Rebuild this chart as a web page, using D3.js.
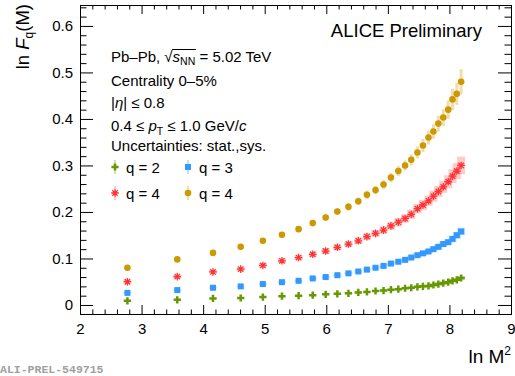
<!DOCTYPE html>
<html><head><meta charset="utf-8">
<script src="https://cdn.jsdelivr.net/npm/d3@7"></script>
<style>body{margin:0;background:#fff} svg{display:block;font-family:"Liberation Sans",Arial,sans-serif}</style>
</head><body>
<svg id="c" width="515" height="376"></svg>
<script>
// ln M^2 for M = 4, 6, ..., 60
const lnM2 = [2.77,3.58,4.16,4.61,4.97,5.28,5.55,5.78,5.99,6.18,6.36,6.52,6.66,6.80,6.93,7.05,7.17,7.28,7.38,7.48,7.57,7.66,7.74,7.82,7.90,7.98,8.05,8.12,8.19];
const q2  = [0.009,0.011,0.014,0.015,0.017,0.019,0.020,0.021,0.023,0.024,0.025,0.027,0.028,0.030,0.031,0.033,0.034,0.036,0.037,0.039,0.040,0.041,0.043,0.045,0.047,0.049,0.052,0.054,0.058];
const q3  = [0.026,0.032,0.037,0.040,0.045,0.049,0.052,0.057,0.060,0.064,0.068,0.072,0.076,0.080,0.084,0.089,0.093,0.097,0.102,0.107,0.111,0.115,0.120,0.125,0.131,0.135,0.142,0.150,0.158];
const q4a = [0.050,0.061,0.071,0.077,0.085,0.095,0.102,0.109,0.116,0.124,0.131,0.138,0.147,0.154,0.161,0.170,0.178,0.186,0.195,0.207,0.215,0.224,0.234,0.244,0.254,0.265,0.277,0.288,0.300];
const q4b = [0.080,0.098,0.112,0.125,0.138,0.151,0.163,0.176,0.188,0.201,0.211,0.223,0.237,0.247,0.259,0.274,0.288,0.300,0.312,0.328,0.343,0.360,0.373,0.390,0.403,0.420,0.442,0.454,0.480];
// systematic uncertainties (half heights)
const sys2  = [0.001,0.001,0.001,0.001,0.001,0.001,0.001,0.001,0.002,0.002,0.002,0.002,0.002,0.002,0.002,0.002,0.002,0.002,0.002,0.002,0.002,0.003,0.003,0.003,0.003,0.003,0.003,0.003,0.004];
const sys3  = [0.002,0.002,0.002,0.002,0.002,0.002,0.002,0.003,0.003,0.003,0.003,0.003,0.003,0.003,0.004,0.004,0.004,0.004,0.004,0.005,0.005,0.005,0.005,0.006,0.006,0.006,0.007,0.007,0.008];
const sys4a = [0.004,0.004,0.004,0.004,0.005,0.005,0.005,0.005,0.006,0.006,0.006,0.007,0.007,0.007,0.008,0.008,0.009,0.009,0.010,0.010,0.011,0.011,0.012,0.012,0.013,0.014,0.015,0.017,0.019];
const sys4b = [0.004,0.004,0.005,0.005,0.005,0.006,0.006,0.006,0.007,0.007,0.008,0.008,0.009,0.009,0.010,0.010,0.011,0.011,0.012,0.013,0.014,0.015,0.016,0.017,0.018,0.020,0.023,0.024,0.027];
const xTicks = [2,3,4,5,6,7,8,9];
const yTicks = [0,0.1,0.2,0.3,0.4,0.5,0.6];
const legendLabels = ["q = 2","q = 3","q = 4","q = 4"];

const svg = d3.select("#c");
const L=80, R=511, T=5, B=314;
const x = d3.scaleLinear([2,9],[L,R]);
const y = d3.scaleLinear([-0.0194,0.645],[B,T]);

const series = [
  {v:q2, e:sys2, col:"#669900", box:"rgba(102,153,0,0.30)", bw:8, shape:"cross"},
  {v:q3, e:sys3, col:"#3399ff", box:"rgba(51,153,255,0.30)", bw:8, shape:"square"},
  {v:q4a, e:sys4a, col:"#ff3333", box:"rgba(255,51,51,0.26)", bw:8, shape:"star"},
  {v:q4b, e:sys4b, col:"#cc9900", box:"rgba(204,153,0,0.32)", bw:3, shape:"circle"}
];

function marker(g, shape, col) {
  if (shape==="cross") {
    const a=3.6, w=1.25;
    g.append("path").attr("d",`M${-w},${-a}H${w}V${-w}H${a}V${w}H${w}V${a}H${-w}V${w}H${-a}V${-w}H${-w}Z`).attr("fill",col);
  } else if (shape==="square") {
    g.append("rect").attr("x",-3).attr("y",-3).attr("width",6).attr("height",6).attr("fill",col);
  } else if (shape==="circle") {
    g.append("circle").attr("r",3.3).attr("fill",col);
  } else {
    const a=3.8, d=2.7;
    g.append("path").attr("d",`M${-a},0H${a}M0,${-a}V${a}M${-d},${-d}L${d},${d}M${-d},${d}L${d},${-d}`)
      .attr("stroke",col).attr("stroke-width",1.3).attr("fill","none");
  }
}

// axes
const fmtY = d => d===0 ? "0" : d3.format(".1f")(d);
const xMinor = x.ticks(35).filter(d=>!xTicks.includes(d));
const yMinor = d3.range(0,0.645,0.02).filter(d=>!yTicks.some(t=>Math.abs(t-d)<1e-6));

function styleAxis(g){ g.select(".domain").remove(); g.selectAll("line").attr("stroke","#000"); g.selectAll("text").attr("font-family","Liberation Sans, Arial, sans-serif").attr("font-size",15).attr("fill","#000"); }

svg.append("g").attr("transform",`translate(0,${B})`).call(d3.axisBottom(x).tickValues(xTicks).tickSize(-9).tickPadding(9).tickFormat(d3.format("d"))).call(styleAxis);
svg.append("g").attr("transform",`translate(0,${B})`).call(d3.axisBottom(x).tickValues(xMinor).tickSize(-4.5).tickFormat("")).call(styleAxis);
svg.append("g").attr("transform",`translate(0,${T})`).call(d3.axisTop(x).tickValues(xTicks).tickSize(-9).tickFormat("")).call(styleAxis);
svg.append("g").attr("transform",`translate(0,${T})`).call(d3.axisTop(x).tickValues(xMinor).tickSize(-4.5).tickFormat("")).call(styleAxis);
svg.append("g").attr("transform",`translate(${L},0)`).call(d3.axisLeft(y).tickValues(yTicks).tickSize(-13).tickPadding(7).tickFormat(fmtY)).call(styleAxis);
svg.append("g").attr("transform",`translate(${L},0)`).call(d3.axisLeft(y).tickValues(yMinor).tickSize(-6.5).tickFormat("")).call(styleAxis);
svg.append("g").attr("transform",`translate(${R},0)`).call(d3.axisRight(y).tickValues(yTicks).tickSize(-13).tickFormat("")).call(styleAxis);
svg.append("g").attr("transform",`translate(${R},0)`).call(d3.axisRight(y).tickValues(yMinor).tickSize(-6.5).tickFormat("")).call(styleAxis);
svg.append("rect").attr("x",L+0.5).attr("y",T+0.5).attr("width",R-L).attr("height",B-T).attr("fill","none").attr("stroke","#000");

// data
series.forEach(s=>{
  const g = svg.append("g");
  g.selectAll("rect").data(s.v).join("rect")
    .attr("x",(d,i)=>x(lnM2[i])-s.bw/2).attr("width",s.bw)
    .attr("y",(d,i)=>y(d+s.e[i])).attr("height",(d,i)=>y(d-s.e[i])-y(d+s.e[i]))
    .attr("fill",s.box);
});
series.forEach(s=>{
  s.v.forEach((d,i)=>{
    const g = svg.append("g").attr("transform",`translate(${x(lnM2[i])},${y(d)})`);
    marker(g,s.shape,s.col);
  });
});

// texts
svg.append("text").attr("x",482).attr("y",36.5).attr("text-anchor","end").attr("font-size",18.5).text("ALICE Preliminary");

const tx = 111, fs = 15;
const t1 = svg.append("text").attr("x",tx).attr("y",62).attr("font-size",fs);
t1.append("tspan").text("Pb–Pb, √");
t1.append("tspan").attr("font-style","italic").text("s");
t1.append("tspan").attr("font-size",10.5).attr("dy",3).text("NN");
t1.append("tspan").attr("dy",-3).text(" = 5.02 TeV");
{
  const n = t1.node();
  const e7 = n.getExtentOfChar(7), e10 = n.getExtentOfChar(10);
  svg.append("line").attr("x1",e7.x+e7.width-0.5).attr("x2",e10.x+e10.width+0.5)
    .attr("y1",e7.y+1.5).attr("y2",e7.y+1.5).attr("stroke","#000").attr("stroke-width",1);
}
svg.append("text").attr("x",tx).attr("y",86).attr("font-size",fs).text("Centrality 0–5%");
const t3 = svg.append("text").attr("x",tx).attr("y",108).attr("font-size",fs);
t3.append("tspan").text("|");
t3.append("tspan").attr("font-style","italic").text("η");
t3.append("tspan").text("| ≤ 0.8");
const t4 = svg.append("text").attr("x",tx).attr("y",131).attr("font-size",fs);
t4.append("tspan").text("0.4 ≤ ");
t4.append("tspan").attr("font-style","italic").text("p");
t4.append("tspan").attr("font-size",10.5).attr("dy",4).text("T");
t4.append("tspan").attr("dy",-4).text(" ≤ 1.0 GeV/");
t4.append("tspan").attr("font-style","italic").text("c");
svg.append("text").attr("x",tx).attr("y",151).attr("font-size",fs).text("Uncertainties: stat.,sys.");

// legend
const legPos = [[115,167],[188,167],[115,193],[188,193]];
series.forEach((s,i)=>{
  const [lx,ly] = legPos[i];
  svg.append("rect").attr("x",lx-1).attr("y",ly-7).attr("width",2).attr("height",14).attr("fill",s.box);
  const g = svg.append("g").attr("transform",`translate(${lx},${ly})`);
  marker(g,s.shape,s.col);
  svg.append("text").attr("x",lx+11).attr("y",ly+5.5).attr("font-size",fs).text(legendLabels[i]);
});

// axis titles
const yl = svg.append("text").attr("transform","translate(29,4) rotate(-90)").attr("text-anchor","end").attr("font-size",18.5);
yl.append("tspan").text("ln ");
yl.append("tspan").attr("font-style","italic").text("F");
yl.append("tspan").attr("font-size",12).attr("dy",4).text("q");
yl.append("tspan").attr("dy",-4).text("(M)");

const xl = svg.append("text").attr("x",511).attr("y",363).attr("text-anchor","end").attr("font-size",19);
xl.append("tspan").text("ln M");
xl.append("tspan").attr("font-size",12).attr("dy",-8).text("2");

svg.append("text").attr("x",0).attr("y",373).attr("font-family","Liberation Mono, Courier New, monospace").attr("font-weight","bold").attr("font-size",11.5).attr("fill","#a0a0a0").text("ALI-PREL-549715");
</script>
</body></html>
